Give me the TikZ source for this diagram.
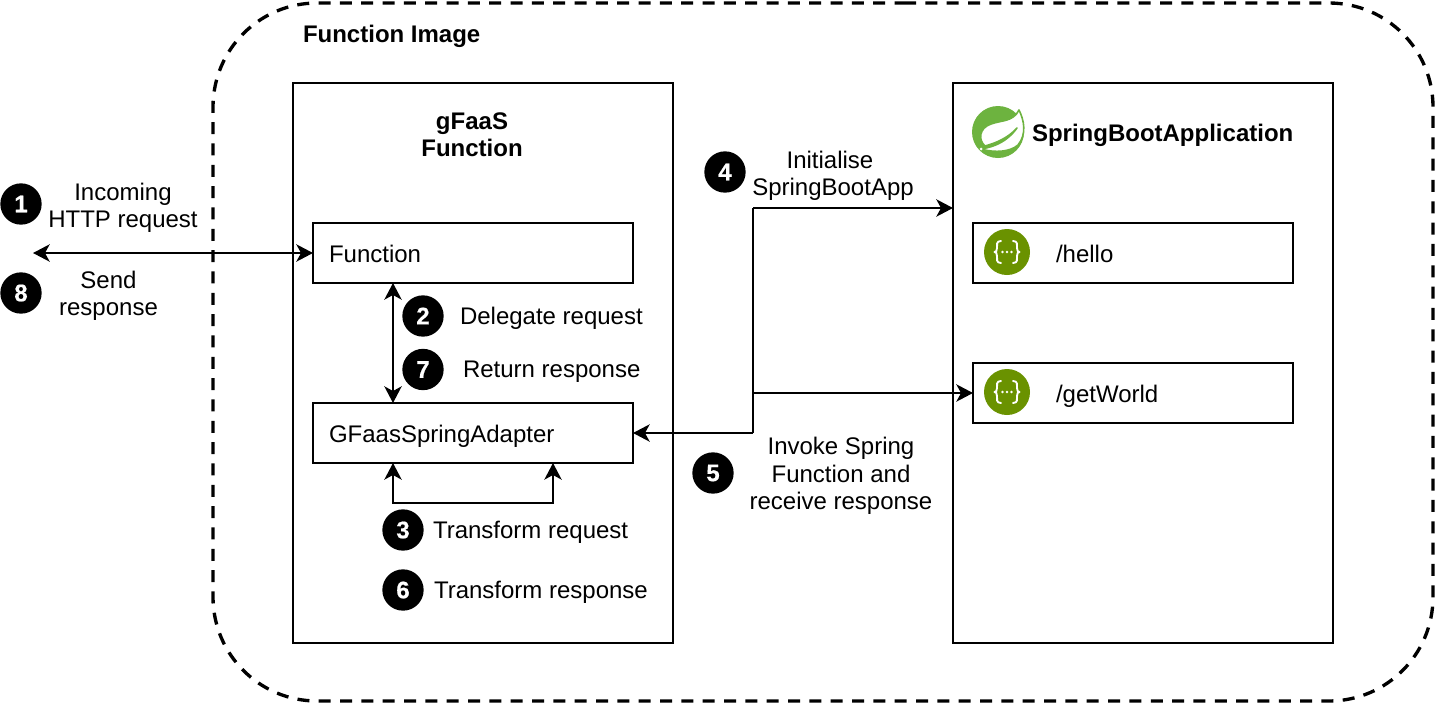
\documentclass[tikz,border=0pt]{standalone}
\usepackage{fontspec}
\setmainfont{Liberation Sans}
\newfontfamily\badgefont[FakeBold=0.5]{Liberation Sans Bold}
\usetikzlibrary{arrows.meta}
\definecolor{springgreen}{HTML}{6DB33F}
\definecolor{swaggergreen}{HTML}{6A9200}
\tikzset{
  x=0.75pt,y=-0.75pt,
  every node/.style={font=\fontsize{18}{21}\selectfont,inner sep=0pt,outer sep=0pt},
  panel/.style={draw=black,line width=1.5pt,fill=white,minimum width=285pt,minimum height=420pt},
  inner box/.style={draw=black,line width=1.5pt,fill=white,minimum width=240pt,minimum height=45pt},
  badge/.style={circle,fill=black,text=white,minimum size=31pt,font=\fontsize{18}{21}\badgefont},
  label/.style={align=center},
  title/.style={align=center,font=\fontsize{18}{21}\selectfont\bfseries},
  conn/.style={line width=1.5pt,-{Stealth[length=12.5pt,width=13pt,inset=3.5pt]}},
  biconn/.style={line width=1.5pt,{Stealth[length=12.5pt,width=13pt,inset=3.5pt]}-{Stealth[length=12.5pt,width=13pt,inset=3.5pt]}},
  plain/.style={line width=1.5pt},
  iconline/.style={draw=white,line width=1.4pt,line cap=round,line join=round},
}
\begin{document}
\begin{tikzpicture}
\useasboundingbox (0,0) rectangle (1436,704);
\draw[line width=2.5pt,dash pattern=on 9pt off 7pt,rounded corners=78pt] (800,3) -- (1433,3) -- (1433,701) -- (213,701) -- (213,3) -- cycle;
\node[title,anchor=west] (fi) at (303,36) {Function Image};

\node[panel] (gf) at (483,363) {};
\node[panel] (sb) at (1143,363) {};
\node[title] (gft) at (472,135) {gFaaS\\[-0.5pt]Function};

\node[inner box] (fn) at (473,253) {};
\node[anchor=west] (fnt) at (329,254) {Function};
\node[inner box] (ad) at (473,433) {};
\node[anchor=west] (adt) at (329,436) {GFaasSpringAdapter};
\node[inner box] (he) at (1133,253) {};
\node[anchor=west] (het) at (1056,254) {/hello};
\node[inner box] (gw) at (1133,393) {};
\node[anchor=west] (gwt) at (1056,396) {/getWorld};

% Spring logo
\fill[springgreen] (998,132) circle[radius=26];
\path[fill=white,draw=springgreen,line width=1.2pt,line join=round] (1019,110) .. controls (1024,120) and (1027,134) .. (1018,145)
  .. controls (1010,152) and (995,153) .. (981,149)
  .. controls (986,148) and (1004,146) .. (1017,128)
  .. controls (1008,138) and (996,143) .. (985,146)
  .. controls (978,140) and (979,128) .. (991,124)
  .. controls (1002,120) and (1013,122) .. (1019,110) -- cycle;
\fill[white] (981,149) circle[radius=1.5];
\node[title,anchor=west] (sbt) at (1032,135) {SpringBootApplication};

% Swagger icons
\foreach \n/\y in {a/253,b/393}{
  \fill[swaggergreen] (1007,\y-1) circle[radius=23] coordinate (icon\n);
  \draw[iconline] (1001,\y-12) .. controls (996,\y-12) and (997,\y-8) .. (997,\y-5)
     .. controls (997,\y-2) and (996,\y-1) .. (994.5,\y-1)
     .. controls (996,\y-1) and (997,\y) .. (997,\y+3)
     .. controls (997,\y+6) and (996,\y+10) .. (1001,\y+10);
  \draw[iconline] (1013,\y-12) .. controls (1018,\y-12) and (1017,\y-8) .. (1017,\y-5)
     .. controls (1017,\y-2) and (1018,\y-1) .. (1019.5,\y-1)
     .. controls (1018,\y-1) and (1017,\y) .. (1017,\y+3)
     .. controls (1017,\y+6) and (1018,\y+10) .. (1013,\y+10);
  \fill[white] (1002.5,\y-1) circle[radius=1.3] (1007,\y-1) circle[radius=1.3] (1011.5,\y-1) circle[radius=1.3];
}

\coordinate (ext) at (33,253);
\coordinate (j1) at (753,433);
\coordinate (j2) at (753,208);
\coordinate (j3) at (753,393);
\coordinate (sbin) at (sb.west |- j2);
\coordinate (l1) at (393,403);
\coordinate (l2) at (393,283);
\coordinate (m1) at (393,463);
\coordinate (m2) at (553,463);
\coordinate (m3) at (393,503);
\coordinate (m4) at (553,503);

\draw[biconn] (ext) -- (fn.west);
\draw[biconn] (l2) -- (l1);
\draw[biconn] (m1) -- (m3) -- (m4) -- (m2);
\draw[plain] (j1) -- (j2);
\draw[conn] (j1) -- (ad.east);
\draw[conn] (j2) -- (sbin);
\draw[conn] (j3) -- (gw.west);

\node[label] (t1) at (123,208) {Incoming\\[-0.5pt]HTTP request};
\node[label] (t8) at (108.5,296) {Send\\[-0.5pt]response};
\node[anchor=west] (t2) at (460,318) {Delegate request};
\node[anchor=west] (t7) at (463,372) {Return response};
\node[anchor=west] (t3) at (433,532) {Transform request};
\node[anchor=west] (t6) at (434,592) {Transform response};
\node[label] (t4) at (833,176) {Initialise\hspace*{4.5pt}\\[-0.5pt]SpringBootApp};
\node[label] (t5) at (841,476) {Invoke Spring\\[-0.5pt]Function and\\[-0.5pt]receive response};

\node[badge] (b1) at (21,204) {1};
\node[badge] (b8) at (21,293) {8};
\node[badge] (b2) at (423,316) {2};
\node[badge] (b7) at (423,369.5) {7};
\node[badge] (b3) at (403,530) {3};
\node[badge] (b6) at (403,590) {6};
\node[badge] (b4) at (725,172) {4};
\node[badge] (b5) at (713,473) {5};
\end{tikzpicture}
\end{document}
